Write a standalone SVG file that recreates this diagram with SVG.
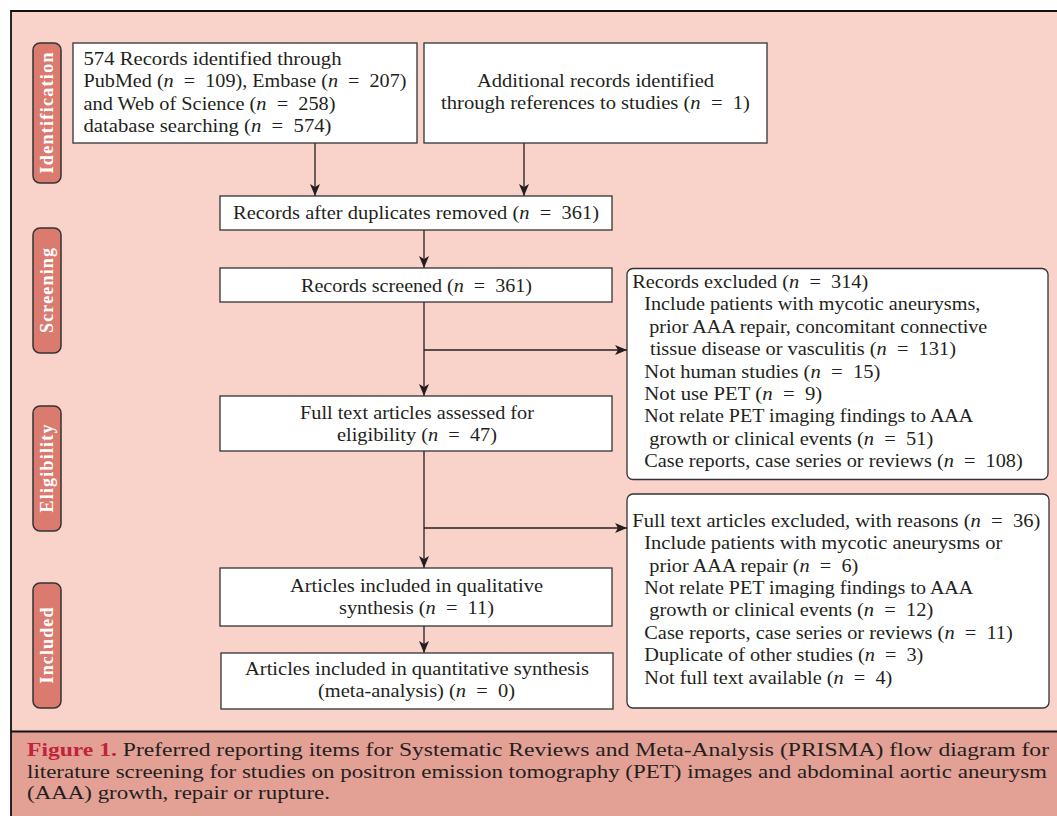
<svg xmlns="http://www.w3.org/2000/svg" width="1057" height="816" viewBox="0 0 1057 816">
<defs>
<style>
.bg{fill:#F9D2C9}
.capbg{fill:#E3A095}
.frame{fill:none;stroke:#111;stroke-width:1.8}
.box{fill:#fff;stroke:#333;stroke-width:1.3}
.tab{fill:#DB7A6F;stroke:#333;stroke-width:1.5}
.t{font-family:"Liberation Serif","Times New Roman",serif;font-size:18.8px;fill:#231f20}
.m{text-anchor:middle}
.i{font-style:italic}
.tabt{font-family:"Liberation Serif","Times New Roman",serif;font-weight:bold;font-size:18px;fill:#fff;text-anchor:middle}
.cap{font-family:"Liberation Serif","Times New Roman",serif;font-size:18.5px;fill:#231f20}
.fig{font-weight:bold;fill:#C0243A}
.conn{fill:none;stroke:#231f20;stroke-width:1.3}
</style>
<marker id="ah" markerUnits="userSpaceOnUse" markerWidth="12" markerHeight="10" viewBox="0 0 12 10" refX="12" refY="5" orient="auto">
<path d="M0,0 L12,5 L0,10 L3,5 z" fill="#231f20"/>
</marker>
</defs>

<rect x="0" y="0" width="1057" height="816" fill="#fff"/>
<rect class="bg" x="11" y="11" width="1046" height="720.5"/>
<rect class="capbg" x="11" y="731.5" width="1046" height="84.5"/>
<path class="frame" d="M1057,11 H11 V816 M11,731.5 H1057"/>

<g id="tab-identification">
<rect class="tab" x="33" y="43" width="28" height="140" rx="7"/>
<text class="tabt" transform="translate(53,113) rotate(-90)" textLength="121" lengthAdjust="spacing">Identification</text>
</g>
<g id="tab-screening">
<rect class="tab" x="33" y="228" width="28" height="125" rx="7"/>
<text class="tabt" transform="translate(53,290.5) rotate(-90)" textLength="85" lengthAdjust="spacing">Screening</text>
</g>
<g id="tab-eligibility">
<rect class="tab" x="33" y="406" width="28" height="125" rx="7"/>
<text class="tabt" transform="translate(53,468.5) rotate(-90)" textLength="88" lengthAdjust="spacing">Eligibility</text>
</g>
<g id="tab-included">
<rect class="tab" x="33" y="583" width="28" height="125" rx="7"/>
<text class="tabt" transform="translate(53,645.5) rotate(-90)" textLength="76" lengthAdjust="spacing">Included</text>
</g>

<g id="connectors">
<line class="conn" x1="315" y1="143" x2="315" y2="196" marker-end="url(#ah)"/>
<line class="conn" x1="524" y1="143" x2="524" y2="196" marker-end="url(#ah)"/>
<line class="conn" x1="424" y1="230" x2="424" y2="268" marker-end="url(#ah)"/>
<line class="conn" x1="424" y1="302" x2="424" y2="396" marker-end="url(#ah)"/>
<line class="conn" x1="424" y1="350" x2="627" y2="350" marker-end="url(#ah)"/>
<line class="conn" x1="424" y1="451" x2="424" y2="568" marker-end="url(#ah)"/>
<line class="conn" x1="424" y1="528" x2="627" y2="528" marker-end="url(#ah)"/>
<line class="conn" x1="424" y1="626" x2="424" y2="653" marker-end="url(#ah)"/>
</g>

<g id="records-identified">
<rect class="box" x="73" y="43" width="344" height="100"/>
<text class="t" x="83.5" y="65" textLength="258" lengthAdjust="spacingAndGlyphs">574 Records identified through</text>
<text class="t" x="83.5" y="87.3" textLength="323" lengthAdjust="spacingAndGlyphs">PubMed (<tspan class="i">n</tspan>&#8194;=&#8194;109), Embase (<tspan class="i">n</tspan>&#8194;=&#8194;207)</text>
<text class="t" x="83.5" y="109.6" textLength="252" lengthAdjust="spacingAndGlyphs">and Web of Science (<tspan class="i">n</tspan>&#8194;=&#8194;258)</text>
<text class="t" x="83.5" y="131.8" textLength="248" lengthAdjust="spacingAndGlyphs">database searching (<tspan class="i">n</tspan>&#8194;=&#8194;574)</text>
</g>

<g id="additional-records">
<rect class="box" x="424" y="43" width="343" height="100"/>
<text class="t m" x="595.5" y="87.3" textLength="237" lengthAdjust="spacingAndGlyphs">Additional records identified</text>
<text class="t m" x="595.5" y="109.3" textLength="309" lengthAdjust="spacingAndGlyphs">through references to studies (<tspan class="i">n</tspan>&#8194;=&#8194;1)</text>
</g>

<g id="duplicates-removed">
<rect class="box" x="220" y="196" width="392" height="34"/>
<text class="t m" x="416" y="219.3" textLength="366" lengthAdjust="spacingAndGlyphs">Records after duplicates removed (<tspan class="i">n</tspan>&#8194;=&#8194;361)</text>
</g>

<g id="records-screened">
<rect class="box" x="220" y="268" width="392" height="34"/>
<text class="t m" x="416.5" y="291.8" textLength="231" lengthAdjust="spacingAndGlyphs">Records screened (<tspan class="i">n</tspan>&#8194;=&#8194;361)</text>
</g>

<g id="records-excluded">
<rect class="box" x="627" y="268.5" width="421" height="211" rx="6"/>
<text class="t" x="632.3" y="287.7" textLength="236" lengthAdjust="spacingAndGlyphs">Records excluded (<tspan class="i">n</tspan>&#8194;=&#8194;314)</text>
<text class="t" x="644.3" y="310.2" textLength="336" lengthAdjust="spacingAndGlyphs">Include patients with mycotic aneurysms,</text>
<text class="t" x="649.3" y="332.6" textLength="338" lengthAdjust="spacingAndGlyphs">prior AAA repair, concomitant connective</text>
<text class="t" x="650" y="355.1" textLength="306" lengthAdjust="spacingAndGlyphs">tissue disease or vasculitis (<tspan class="i">n</tspan>&#8194;=&#8194;131)</text>
<text class="t" x="644.3" y="377.5" textLength="236" lengthAdjust="spacingAndGlyphs">Not human studies (<tspan class="i">n</tspan>&#8194;=&#8194;15)</text>
<text class="t" x="644.3" y="400" textLength="178" lengthAdjust="spacingAndGlyphs">Not use PET (<tspan class="i">n</tspan>&#8194;=&#8194;9)</text>
<text class="t" x="644.3" y="422.4" textLength="329" lengthAdjust="spacingAndGlyphs">Not relate PET imaging findings to AAA</text>
<text class="t" x="649.3" y="444.9" textLength="284" lengthAdjust="spacingAndGlyphs">growth or clinical events (<tspan class="i">n</tspan>&#8194;=&#8194;51)</text>
<text class="t" x="644.3" y="467.3" textLength="378.5" lengthAdjust="spacingAndGlyphs">Case reports, case series or reviews (<tspan class="i">n</tspan>&#8194;=&#8194;108)</text>
</g>

<g id="full-text-assessed">
<rect class="box" x="220" y="396" width="392" height="55"/>
<text class="t m" x="417" y="419" textLength="234" lengthAdjust="spacingAndGlyphs">Full text articles assessed for</text>
<text class="t m" x="417" y="441" textLength="160" lengthAdjust="spacingAndGlyphs">eligibility (<tspan class="i">n</tspan>&#8194;=&#8194;47)</text>
</g>

<g id="full-text-excluded">
<rect class="box" x="627" y="494" width="422" height="214" rx="6"/>
<text class="t" x="632.3" y="527" textLength="408" lengthAdjust="spacingAndGlyphs">Full text articles excluded, with reasons (<tspan class="i">n</tspan>&#8194;=&#8194;36)</text>
<text class="t" x="644.3" y="549.4" textLength="358" lengthAdjust="spacingAndGlyphs">Include patients with mycotic aneurysms or</text>
<text class="t" x="649.3" y="571.7" textLength="209" lengthAdjust="spacingAndGlyphs">prior AAA repair (<tspan class="i">n</tspan>&#8194;=&#8194;6)</text>
<text class="t" x="644.3" y="594" textLength="329" lengthAdjust="spacingAndGlyphs">Not relate PET imaging findings to AAA</text>
<text class="t" x="649.3" y="616.4" textLength="284" lengthAdjust="spacingAndGlyphs">growth or clinical events (<tspan class="i">n</tspan>&#8194;=&#8194;12)</text>
<text class="t" x="644.3" y="638.8" textLength="368.5" lengthAdjust="spacingAndGlyphs">Case reports, case series or reviews (<tspan class="i">n</tspan>&#8194;=&#8194;11)</text>
<text class="t" x="644.3" y="661.1" textLength="279" lengthAdjust="spacingAndGlyphs">Duplicate of other studies (<tspan class="i">n</tspan>&#8194;=&#8194;3)</text>
<text class="t" x="644.3" y="683.5" textLength="248" lengthAdjust="spacingAndGlyphs">Not full text available (<tspan class="i">n</tspan>&#8194;=&#8194;4)</text>
</g>

<g id="qualitative-synthesis">
<rect class="box" x="220" y="568" width="392" height="58"/>
<text class="t m" x="416.5" y="592.3" textLength="253" lengthAdjust="spacingAndGlyphs">Articles included in qualitative</text>
<text class="t m" x="416.5" y="613.5" textLength="155" lengthAdjust="spacingAndGlyphs">synthesis (<tspan class="i">n</tspan>&#8194;=&#8194;11)</text>
</g>

<g id="quantitative-synthesis">
<rect class="box" x="221" y="653" width="392" height="56"/>
<text class="t m" x="417" y="675" textLength="344" lengthAdjust="spacingAndGlyphs">Articles included in quantitative synthesis</text>
<text class="t m" x="416.5" y="697" textLength="197" lengthAdjust="spacingAndGlyphs">(meta-analysis) (<tspan class="i">n</tspan>&#8194;=&#8194;0)</text>
</g>

<g id="caption">
<text class="cap" x="27" y="755.5" textLength="1022" lengthAdjust="spacingAndGlyphs"><tspan class="fig">Figure 1.</tspan> Preferred reporting items for Systematic Reviews and Meta-Analysis (PRISMA) flow diagram for</text>
<text class="cap" x="27" y="777.5" textLength="1020" lengthAdjust="spacingAndGlyphs">literature screening for studies on positron emission tomography (PET) images and abdominal aortic aneurysm</text>
<text class="cap" x="27" y="799" textLength="303" lengthAdjust="spacingAndGlyphs">(AAA) growth, repair or rupture.</text>
</g>
</svg>
